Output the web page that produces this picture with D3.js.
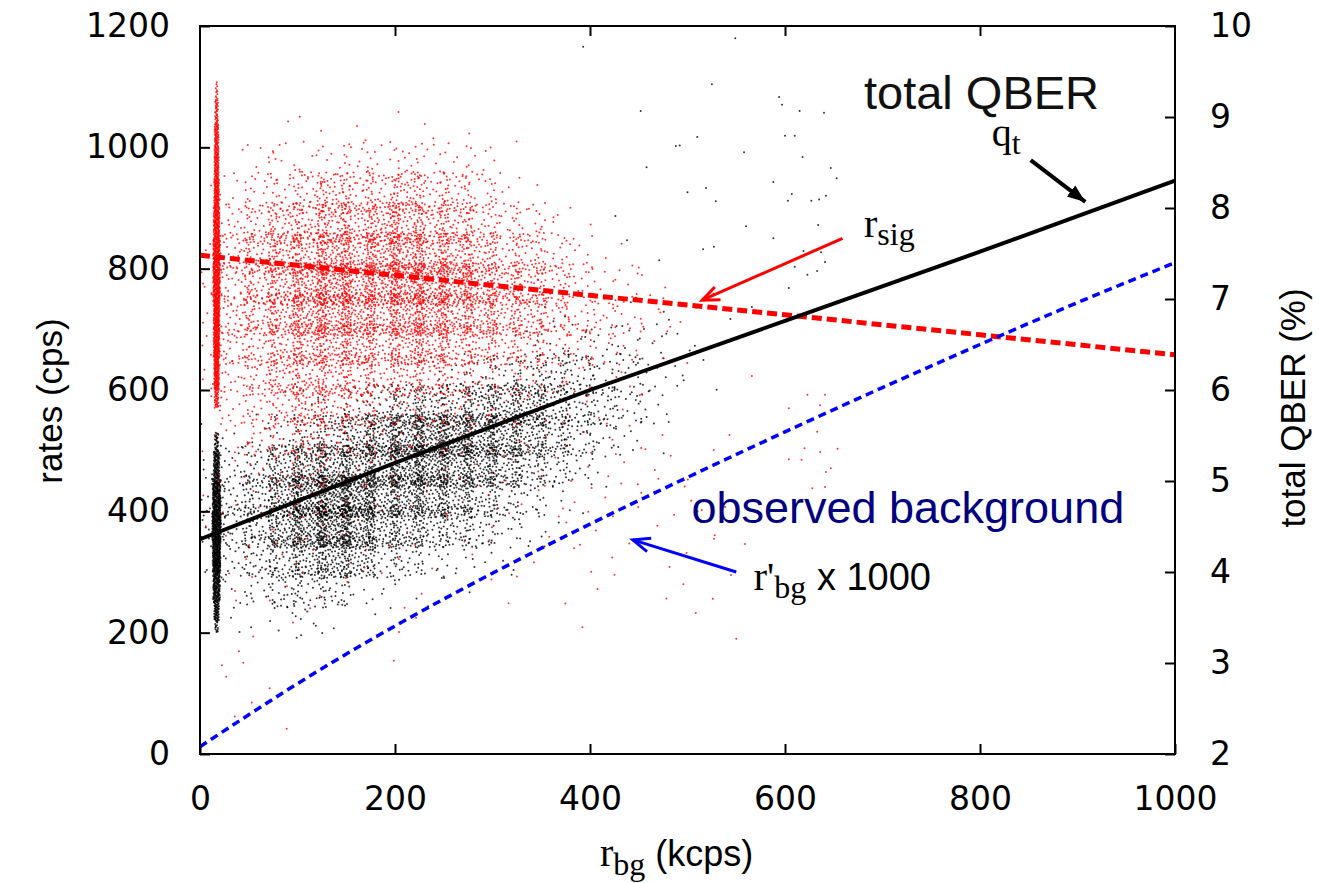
<!DOCTYPE html>
<html>
<head>
<meta charset="utf-8">
<script src="https://cdn.jsdelivr.net/npm/d3@7"></script>
<style>
    body { margin: 0; background: #fff; }
    svg text { font-family: "Liberation Sans", Arial, sans-serif; }
    .axis .tick text { font-family: "DejaVu Sans", sans-serif; font-size: 33px; fill: #000; }
    .axis .tick line { stroke: #000; stroke-width: 2; }
    .serif { font-family: "Liberation Serif", "Times New Roman", serif; }
</style>
</head>
<body>
<div id="chart"></div>
<script>
// ===== Data =====
var xTicks = [0, 200, 400, 600, 800, 1000];
var rateTicks = [0, 200, 400, 600, 800, 1000, 1200];
var qberTicks = [2, 3, 4, 5, 6, 7, 8, 9, 10];

// fitted curves, sampled at r_bg (kcps)
var lineX = [0, 200, 400, 600, 800, 1000];
var qtVals = [4.36, 5.20, 6.00, 6.76, 7.52, 8.30];           // total QBER (%), right axis
var rsigVals = [822, 789, 756, 724, 691, 658];               // r_sig (cps)
var bgX = [0, 100, 200, 300, 400, 500, 600, 700, 800, 900, 1000];
var bgVals = [12, 116, 211, 298, 379, 456, 531, 604, 675, 744, 810]; // r'_bg x 1000

// scatter density, cells of 25 kcps x 50 cps; rows from 1200 cps down to 0
// digit = density level of the cell (0 = empty, 9 = densest)
var redDensity = [
    "0000000000000000000000000000",
    "0000000000000000000000000000",
    "0000000000000000000000000000",
    "0001101101010000000000000000",
    "0122223232221000000000000000",
    "1233454454432100000000000000",
    "1345565665543321000000000000",
    "2456676776654432110000000000",
    "2456787787765543221000000000",
    "2456777677665543322110000000",
    "2445666566554433221100000000",
    "2345555454433322111000000000",
    "1334544333322211110000000000",
    "1233433222211111111000000000",
    "1122322111111111111100000000",
    "1112211111111111111110000000",
    "1111111010101011101011000000",
    "0111111101010101010101000000",
    "0101101010001000100100000000",
    "0100100010000001000010000000",
    "0100000100000000000000000000",
    "0100000000000000000000000000",
    "0101000000000000000000000000",
    "0000000000000000000000000000"
];
var blackDensity = [
    "0000000000000000000000000000",
    "0000000000000000000000000000",
    "0000000000000000000000000000",
    "0000000000000000000000000000",
    "0000000000000000000000000000",
    "0000000000000000000000000000",
    "0000000000000000000000000000",
    "0000000000000000000000000000",
    "0000000000000000000000000000",
    "0000000000000011011100000000",
    "0000000000001122222110000000",
    "0000000011233444332110000000",
    "0001223455566654432100000000",
    "1123456788877654321000000000",
    "2346777788776543100000000000",
    "3457899777654321000000000000",
    "3457898665543210000000000000",
    "2345676443221100000000000000",
    "1234442211100000000000000000",
    "0112211000000000000000000000",
    "0000000000000000000000000000",
    "0000000000000000000000000000",
    "0000000000000000000000000000",
    "0000000000000000000000000000"
];
var levelCounts = [0, 2, 8, 18, 34, 55, 80, 110, 145, 185];

// narrow spikes at r_bg ~ 17 kcps: [rate low, rate high, points, half width kcps]
var spikeX = 17;
var redSpike = [
    [1080, 1110, 10, 1], [1040, 1080, 35, 1.5], [1000, 1040, 60, 2], [950, 1000, 90, 2.2],
    [900, 950, 120, 2.5], [850, 900, 140, 3], [800, 850, 160, 3.5], [750, 800, 160, 3.5],
    [700, 750, 160, 3], [650, 700, 150, 3], [600, 650, 120, 2.5], [570, 600, 35, 2]
];
var blackSpike = [
    [500, 530, 30, 2], [450, 500, 120, 3], [400, 450, 200, 4], [350, 400, 250, 4.5],
    [300, 350, 230, 4], [250, 300, 160, 3.5], [220, 250, 60, 2.5], [200, 220, 14, 1.5]
];

// isolated points [r_bg kcps, rate cps]
var blackOutliers = [
    [393, 1166], [549, 1180], [525, 1104], [452, 1060], [594, 1083], [597, 1070], [615, 1060],
    [640, 1057], [510, 1017], [488, 1002], [492, 1003], [600, 1019], [610, 1019], [558, 992],
    [458, 967], [618, 984], [647, 966], [653, 949], [588, 943], [500, 926], [519, 933],
    [529, 911], [607, 923], [603, 912], [627, 912], [635, 914], [642, 920], [426, 887],
    [560, 870], [634, 872], [438, 847], [588, 850], [516, 832], [527, 836], [471, 814],
    [619, 829], [637, 827], [641, 811], [633, 796], [623, 790], [610, 803], [604, 768],
    [566, 737], [544, 717]
];
var redOutliers = [
    [566, 623], [623, 592], [641, 592], [604, 570], [636, 575], [543, 526], [633, 531],
    [527, 501], [620, 504], [636, 498], [654, 503], [604, 486], [617, 485], [647, 471],
    [642, 465], [628, 438], [641, 440], [559, 346], [550, 190]
];

// ===== Chart =====
var margin = { top: 26, right: 144, bottom: 129, left: 200 };
var width = 1319 - margin.left - margin.right,
    height = 883 - margin.top - margin.bottom;

var svg = d3.select("#chart").append("svg")
    .attr("width", 1319)
    .attr("height", 883);

var g = svg.append("g")
    .attr("transform", "translate(" + margin.left + "," + margin.top + ")");

var x = d3.scaleLinear().domain([0, 1000]).range([0, width]);
var yRate = d3.scaleLinear().domain([0, 1200]).range([height, 0]);
var yQber = d3.scaleLinear().domain([2, 10]).range([height, 0]);

g.append("defs").append("clipPath").attr("id", "plotclip")
    .append("rect").attr("width", width).attr("height", height);

// spread the points of a cell evenly (Halton sequence, bases 2 and 3)
var seq = 0;
function halton(i, b) {
    var f = 1, r = 0;
    while (i > 0) { f = f / b; r = r + f * (i % b); i = Math.floor(i / b); }
    return r;
}
function nextUV() {
    seq++;
    return [halton(seq, 2), halton(seq, 3)];
}
function densityPoints(grid) {
    var pts = [];
    grid.forEach(function(row, i) {
        var rateLo = 1200 - (i + 1) * 50;
        row.split("").forEach(function(ch, j) {
            var n = levelCounts[+ch];
            for (var k = 0; k < n; k++) {
                var uv = nextUV();
                pts.push([j * 25 + (uv[0] * 1.4 - 0.2) * 25, rateLo + (uv[1] * 1.4 - 0.2) * 50]);
            }
        });
    });
    return pts;
}
function spikePoints(spike) {
    var pts = [];
    spike.forEach(function(s) {
        for (var k = 0; k < s[2]; k++) {
            var uv = nextUV();
            pts.push([spikeX + (uv[0] * 2 - 1) * s[3], s[0] + uv[1] * (s[1] - s[0])]);
        }
    });
    return pts;
}

var blackPts = densityPoints(blackDensity).concat(spikePoints(blackSpike), blackOutliers);
var redPts = densityPoints(redDensity).concat(spikePoints(redSpike), redOutliers);

var dots = g.append("g").attr("clip-path", "url(#plotclip)");

dots.selectAll(".bdot").data(blackPts).enter()
    .append("circle")
    .attr("class", "bdot")
    .attr("cx", function(d) { return x(d[0]); })
    .attr("cy", function(d) { return yRate(d[1]); })
    .attr("r", 1.0)
    .attr("fill", "#000")
    .attr("fill-opacity", 0.8);

dots.selectAll(".rdot").data(redPts).enter()
    .append("circle")
    .attr("class", "rdot")
    .attr("cx", function(d) { return x(d[0]); })
    .attr("cy", function(d) { return yRate(d[1]); })
    .attr("r", 1.0)
    .attr("fill", "#ff0000")
    .attr("fill-opacity", 0.8);

//======= fitted lines ======//
var rsigLine = d3.line()
    .x(function(d, i) { return x(lineX[i]); })
    .y(function(d) { return yRate(d); });
var qtLine = d3.line()
    .x(function(d, i) { return x(lineX[i]); })
    .y(function(d) { return yQber(d); });
var bgLine = d3.line()
    .x(function(d, i) { return x(bgX[i]); })
    .y(function(d) { return yRate(d); })
    .curve(d3.curveNatural);

g.append("path").datum(rsigVals)
    .attr("d", rsigLine)
    .attr("fill", "none")
    .attr("stroke", "#ff0000")
    .attr("stroke-width", 5)
    .attr("stroke-dasharray", "10,5");

g.append("path").datum(bgVals)
    .attr("d", bgLine)
    .attr("fill", "none")
    .attr("stroke", "#0000ff")
    .attr("stroke-width", 3.5)
    .attr("stroke-dasharray", "8,5");

g.append("path").datum(qtVals)
    .attr("d", qtLine)
    .attr("fill", "none")
    .attr("stroke", "#000")
    .attr("stroke-width", 4);

//======= axes ======//
var xAxis = d3.axisBottom(x).tickValues(xTicks).tickSize(-10).tickPadding(33).tickFormat(d3.format("d"));
var xTopAxis = d3.axisTop(x).tickValues([200, 400, 600, 800]).tickSize(-10).tickFormat("");
var yAxis = d3.axisLeft(yRate).tickValues(rateTicks).tickSize(-10).tickPadding(30).tickFormat(d3.format("d"));
var y2Axis = d3.axisRight(yQber).tickValues(qberTicks).tickSize(-10).tickPadding(35).tickFormat(d3.format("d"));

g.append("g").attr("class", "axis").attr("transform", "translate(0," + height + ")").call(xAxis);
g.append("g").attr("class", "axis").call(xTopAxis);
g.append("g").attr("class", "axis").call(yAxis);
g.append("g").attr("class", "axis").attr("transform", "translate(" + width + ",0)").call(y2Axis);
g.selectAll(".axis .domain").remove();

g.append("rect")
    .attr("width", width)
    .attr("height", height)
    .attr("fill", "none")
    .attr("stroke", "#000")
    .attr("stroke-width", 2);

// axis titles
svg.append("text")
    .attr("transform", "translate(62,401) rotate(-90)")
    .attr("text-anchor", "middle")
    .style("font-size", "35px")
    .text("rates (cps)");

svg.append("text")
    .attr("transform", "translate(1305,408) rotate(-90)")
    .attr("text-anchor", "middle")
    .style("font-size", "35px")
    .text("total QBER (%)");

var xTitle = svg.append("text")
    .attr("x", 600)
    .attr("y", 866)
    .style("font-size", "36px");
xTitle.append("tspan").attr("class", "serif").style("font-size", "40px").text("r");
xTitle.append("tspan").attr("class", "serif").style("font-size", "32px").attr("dy", 9).text("bg");
xTitle.append("tspan").attr("dy", -9).text(" (kcps)");

//======= annotations ======//
var defs = svg.append("defs");
defs.append("marker").attr("id", "headFilled")
    .attr("markerUnits", "userSpaceOnUse")
    .attr("markerWidth", 20).attr("markerHeight", 16)
    .attr("refX", 18).attr("refY", 8).attr("orient", "auto")
    .append("path").attr("d", "M0,1 L18,8 L0,15 Z").attr("fill", "#000");
["#ff0000", "#0000ff"].forEach(function(c, i) {
    defs.append("marker").attr("id", "headOpen" + i)
        .attr("markerUnits", "userSpaceOnUse")
        .attr("markerWidth", 24).attr("markerHeight", 20)
        .attr("refX", 19).attr("refY", 10).attr("orient", "auto")
        .append("path").attr("d", "M2,3 L19,10 L2,17")
        .attr("fill", "none").attr("stroke", c).attr("stroke-width", 3);
});

var arrows = [
    { from: [852, 979], to: [908, 910], color: "#000", width: 4, marker: "headFilled" },
    { from: [659, 850], to: [515, 748], color: "#ff0000", width: 3, marker: "headOpen0" },
    { from: [550, 300], to: [444, 353], color: "#0000ff", width: 3, marker: "headOpen1" }
];
g.selectAll(".arrow").data(arrows).enter()
    .append("line")
    .attr("class", "arrow")
    .attr("x1", function(d) { return x(d.from[0]); })
    .attr("y1", function(d) { return yRate(d.from[1]); })
    .attr("x2", function(d) { return x(d.to[0]); })
    .attr("y2", function(d) { return yRate(d.to[1]); })
    .attr("stroke", function(d) { return d.color; })
    .attr("stroke-width", function(d) { return d.width; })
    .attr("marker-end", function(d) { return "url(#" + d.marker + ")"; });

g.append("text")
    .attr("x", x(681)).attr("y", yRate(1064))
    .style("font-size", "47px").attr("fill", "#111")
    .text("total QBER");

g.append("text")
    .attr("x", x(504)).attr("y", yRate(381))
    .style("font-size", "45px").attr("fill", "#000080")
    .text("observed background");

var qt = g.append("text").attr("class", "serif")
    .attr("x", x(812)).attr("y", yRate(1002)).attr("fill", "#000");
qt.append("tspan").style("font-size", "40px").text("q");
qt.append("tspan").style("font-size", "32px").attr("dy", 8).text("t");

var rs = g.append("text").attr("class", "serif")
    .attr("x", x(681)).attr("y", yRate(852)).attr("fill", "#000");
rs.append("tspan").style("font-size", "40px").text("r");
rs.append("tspan").style("font-size", "32px").attr("dy", 8).text("sig");

var rb = g.append("text")
    .attr("x", x(568)).attr("y", yRate(270)).attr("fill", "#000");
rb.append("tspan").attr("class", "serif").style("font-size", "40px").text("r'");
rb.append("tspan").attr("class", "serif").style("font-size", "32px").attr("dy", 8).text("bg");
rb.append("tspan").style("font-size", "38px").attr("dy", -8).text(" x 1000");
</script>
</body>
</html>
